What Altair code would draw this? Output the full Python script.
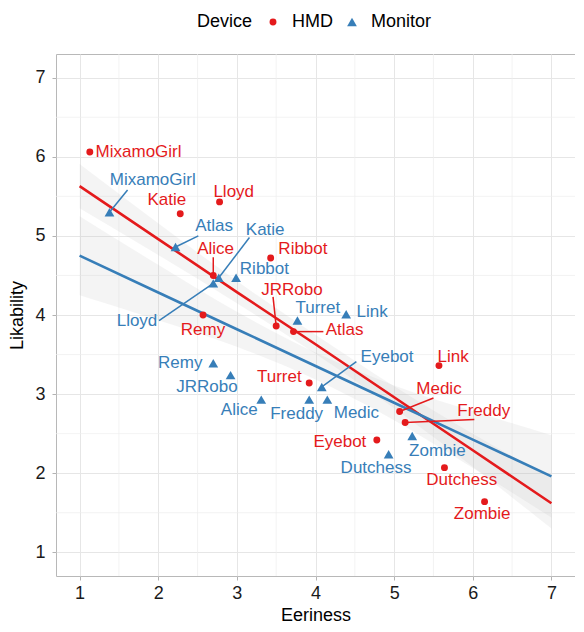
import pandas as pd
import altair as alt

# ---------------- data ----------------
names = ["MixamoGirl", "Katie", "Lloyd", "Alice", "Ribbot", "Remy", "JRRobo", "Atlas",
         "Turret", "Link", "Medic", "Freddy", "Eyebot", "Dutchess", "Zombie"]

hmd_eeriness = [1.13, 2.28, 2.78, 2.70, 3.43, 2.57, 3.50, 3.72, 3.92, 5.57, 5.07, 5.14, 4.78, 5.64, 6.15]
hmd_likability = [6.06, 5.28, 5.43, 4.50, 4.72, 4.00, 3.86, 3.79, 3.14, 3.36, 2.78, 2.64, 2.42, 2.07, 1.64]

mon_eeriness = [1.38, 2.77, 2.70, 3.31, 2.99, 2.70, 2.92, 2.22, 3.77, 4.39, 4.15, 3.92, 4.08, 4.93, 5.23]
mon_likability = [5.30, 4.47, 4.40, 2.93, 4.47, 3.39, 3.24, 4.86, 3.93, 4.01, 2.93, 2.93, 3.09, 2.24, 2.47]

# repelled label positions (data units)
hmd_label_x = [1.75, 2.11, 2.96, 2.73, 3.84, 2.57, 3.70, 4.37, 3.54, 5.75, 5.57, 6.14, 4.31, 5.86, 6.12]
hmd_label_y = [6.06, 5.45, 5.56, 4.84, 4.84, 3.81, 4.32, 3.81, 3.21, 3.47, 3.06, 2.79, 2.39, 1.91, 1.49]
mon_label_x = [1.93, 3.36, 1.73, 3.03, 3.35, 2.28, 2.62, 2.71, 4.03, 4.72, 4.52, 3.76, 4.91, 4.77, 5.55]
mon_label_y = [5.71, 5.07, 3.92, 2.80, 4.58, 3.39, 3.09, 5.12, 4.09, 4.04, 2.76, 2.75, 3.47, 2.06, 2.28]

# leader segments (label-side start point)
seg_device = ["HMD", "HMD", "HMD", "HMD", "HMD", "Monitor", "Monitor", "Monitor", "Monitor", "Monitor"]
seg_name = ["Alice", "JRRobo", "Atlas", "Medic", "Freddy", "MixamoGirl", "Atlas", "Katie", "Lloyd", "Eyebot"]
seg_x = [2.70, 3.46, 4.10, 5.50, 6.02, 1.61, 2.51, 3.16, 2.01, 4.52]
seg_y = [4.73, 4.23, 3.79, 2.95, 2.68, 5.58, 5.00, 4.98, 3.93, 3.41]

# smoother lines and confidence band half-widths
smooth_x = [1, 2, 3, 4, 5, 6, 7]
hmd_fit = [5.63, 4.96, 4.29, 3.63, 2.96, 2.29, 1.62]
hmd_half = [0.28, 0.20, 0.14, 0.12, 0.14, 0.21, 0.32]
mon_fit = [4.75, 4.285, 3.82, 3.355, 2.89, 2.425, 1.96]
mon_half = [0.50, 0.35, 0.22, 0.17, 0.22, 0.36, 0.52]

devices = ["HMD", "Monitor"]
colors = ["#E41A1C", "#377EB8"]
major_ticks = [1, 2, 3, 4, 5, 6, 7]
minor_ticks = [1.5, 2.5, 3.5, 4.5, 5.5, 6.5]

# ---------------- tables ----------------
col_of = dict(zip(devices, colors))
pts = pd.concat([
    pd.DataFrame({"Name": names, "Device": "HMD", "Eeriness": hmd_eeriness, "Likability": hmd_likability,
                  "lx": hmd_label_x, "ly": hmd_label_y}),
    pd.DataFrame({"Name": names, "Device": "Monitor", "Eeriness": mon_eeriness, "Likability": mon_likability,
                  "lx": mon_label_x, "ly": mon_label_y}),
], ignore_index=True)
pts["col"] = pts["Device"].map(col_of)

segs = pd.DataFrame({"Device": seg_device, "Name": seg_name, "sx": seg_x, "sy": seg_y})
segs = segs.merge(pts[["Device", "Name", "Eeriness", "Likability", "col"]], on=["Device", "Name"])

fit = pd.concat([
    pd.DataFrame({"Device": "HMD", "x": smooth_x, "fit": hmd_fit, "half": hmd_half}),
    pd.DataFrame({"Device": "Monitor", "x": smooth_x, "fit": mon_fit, "half": mon_half}),
], ignore_index=True)
fit["lo"] = fit["fit"] - fit["half"]
fit["hi"] = fit["fit"] + fit["half"]
fit["col"] = fit["Device"].map(col_of)

# ---------------- chart ----------------
FONT = "Liberation Sans"
W, H = 519, 522
xs = alt.Scale(domain=[0.7, 7.3], nice=False, zero=False)
ys = alt.Scale(domain=[0.7, 7.3], nice=False, zero=False)

xaxis = alt.Axis(values=major_ticks, format="d", title="Eeriness", grid=True, gridColor="#e6e6e6",
                 gridWidth=1, domain=False, tickColor="#b3b3b3", tickSize=4, labelPadding=4,
                 labelFontSize=18, labelColor="#1a1a1a", labelFont=FONT,
                 titleFontSize=18, titleFontWeight="normal", titleColor="#000000", titleFont=FONT,
                 titleBaseline="middle", titleY=39)
yaxis = alt.Axis(values=major_ticks, format="d", title="Likability", grid=True, gridColor="#e6e6e6",
                 gridWidth=1, domain=False, tickColor="#b3b3b3", tickSize=4, labelPadding=7,
                 labelFontSize=18, labelColor="#1a1a1a", labelFont=FONT,
                 titleFontSize=18, titleFontWeight="normal", titleColor="#000000", titleFont=FONT,
                 titleBaseline="middle", titleX=-39, titleY=H / 2)

legend = alt.Legend(orient="none", legendX=141, legendY=-41, direction="horizontal", titleOrient="left",
                    title="Device")

minor_df = pd.DataFrame({"v": minor_ticks})
minor_x = alt.Chart(minor_df).mark_rule(color="#eeeeee", strokeWidth=0.7).encode(
    x=alt.X("v:Q", scale=xs, axis=xaxis))
minor_y = alt.Chart(minor_df).mark_rule(color="#eeeeee", strokeWidth=0.7).encode(
    y=alt.Y("v:Q", scale=ys, axis=yaxis))

band = alt.Chart(fit).mark_area(color="#bbbbbb", opacity=0.17, interpolate="monotone").encode(
    x=alt.X("x:Q", scale=xs),
    y=alt.Y("lo:Q", scale=ys),
    y2="hi:Q",
    detail="Device:N",
)
lines = alt.Chart(fit).mark_line(strokeWidth=2.6).encode(
    x=alt.X("x:Q", scale=xs),
    y=alt.Y("fit:Q", scale=ys),
    detail="Device:N",
    color=alt.Color("col:N", scale=None),
)
segments = alt.Chart(segs).mark_rule(strokeWidth=1.5).encode(
    x=alt.X("sx:Q", scale=xs),
    y=alt.Y("sy:Q", scale=ys),
    x2="Eeriness:Q",
    y2="Likability:Q",
    color=alt.Color("col:N", scale=None),
)
points = alt.Chart(pts).mark_point(filled=True, opacity=1).encode(
    x=alt.X("Eeriness:Q", scale=xs),
    y=alt.Y("Likability:Q", scale=ys),
    color=alt.Color("Device:N", scale=alt.Scale(domain=devices, range=colors), legend=legend),
    shape=alt.Shape("Device:N", scale=alt.Scale(domain=devices, range=["circle", "triangle-up"]),
                    legend=legend),
    size=alt.Size("Device:N", scale=alt.Scale(domain=devices, range=[48, 95]), legend=None),
)
labels = alt.Chart(pts).mark_text(fontSize=17, font=FONT, align="center", baseline="middle").encode(
    x=alt.X("lx:Q", scale=xs),
    y=alt.Y("ly:Q", scale=ys),
    text="Name:N",
    color=alt.Color("col:N", scale=None),
)

chart = alt.layer(minor_x, minor_y, band, lines, segments, points, labels).properties(
    width=W, height=H,
    autosize=alt.AutoSizeParams(type="none"),
    padding={"left": 48, "top": 46, "right": 0, "bottom": 48},
).configure(
    font=FONT
).configure_view(
    stroke="#b8b8b8", strokeWidth=1
).configure_legend(
    titleFontSize=18, titleFontWeight="normal", titleColor="#000000", titleFont=FONT,
    labelFontSize=18, labelColor="#000000", labelFont=FONT,
    symbolSize=40, titlePadding=11, labelOffset=10, columnPadding=10,
    titleBaseline="middle",
)

chart.save("out.html", embed_options={"renderer": "svg", "actions": False})
